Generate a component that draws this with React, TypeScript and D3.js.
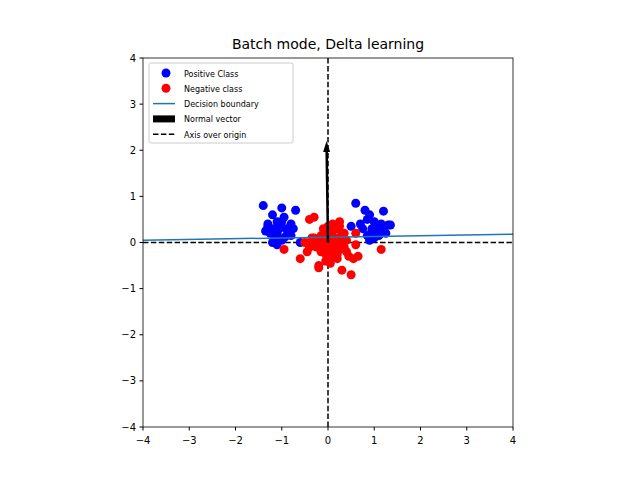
import React from "react";
import * as d3 from "d3";

const posX = [-1.4, -1.3, -1.2, -1.1, -1.0, -0.9, -0.8, -1.25, -1.15, -1.05, -0.95, -0.85, -0.7, -1.35, -1.2, -1.0, -0.9, -1.1, -0.75, -1.3, -1.0, -0.6, -1.2, -0.95, -1.1, -0.8,
  0.6, 0.8, 0.9, 1.0, 1.1, 1.2, 1.3, 0.85, 0.95, 1.05, 1.15, 0.75, 0.9, 1.0, 1.2, 1.35, 0.7, 1.1, 0.95, 1.25, 0.5, 1.0, 1.15, 0.85];
const posY = [0.8, 0.35, 0.6, 0.45, 0.75, 0.3, 0.4, 0.2, 0.1, 0.3, 0.55, 0.2, 0.7, 0.25, 0.0, 0.05, 0.15, -0.05, 0.3, 0.4, 0.45, 0.0, 0.3, 0.1, 0.2, 0.15,
  0.85, 0.7, 0.6, 0.45, 0.3, 0.35, 0.38, 0.5, 0.25, 0.2, 0.4, 0.3, 0.05, 0.1, 0.68, 0.38, 0.4, 0.15, 0.3, 0.2, 0.35, 0.3, 0.2, 0.15];
const negX = [-0.4, -0.3, -0.2, -0.1, 0.0, 0.1, 0.2, 0.3, -0.25, -0.15, 0.05, 0.15, 0.25, -0.35, 0.0, 0.1, -0.05, 0.2, 0.3, -0.6, -0.45, -0.2, 0.35, 0.5, 0.65, 0.6,
  -0.15, 0.05, 0.2, 0.45, -0.3, 0.1, 0.0, -0.1, 0.25, 0.15, -0.5, 0.4, 0.55, 0.05, -0.2, 0.3, 1.15, -0.95, 0.6, 0.25, -0.1, 0.0,
  -0.25, 0.2, 0.1, -0.1, 0.3, 0.15, -0.05, -0.35, 0.35, 0.05, -0.2, 0.25, 0.0, 0.4, -0.4, 0.1];
const negY = [0.5, 0.55, 0.0, 0.1, 0.35, 0.4, 0.3, 0.2, -0.1, -0.2, -0.3, 0.0, 0.1, -0.05, 0.2, -0.15, -0.4, -0.35, -0.05, -0.35, -0.2, -0.5, -0.1, -0.7, -0.3, 0.2,
  0.15, 0.05, -0.25, -0.3, 0.1, 0.25, -0.2, 0.3, 0.45, -0.05, 0.0, 0.05, -0.35, -0.45, -0.55, -0.6, -0.15, -0.15, -0.05, 0.35, 0.05, 0.15,
  0.05, 0.05, 0.15, -0.1, 0.0, 0.3, -0.25, 0.1, 0.2, -0.1, 0.0, -0.15, 0.0, -0.2, -0.1, -0.3];
const boundary = [[-4, 0.05], [4, 0.18]];
const normal = [[0, 0], [-0.03, 2.2]];
const ticks = [-4, -3, -2, -1, 0, 1, 2, 3, 4];
const legendItems = ["Positive Class", "Negative class", "Decision boundary", "Normal vector", "Axis over origin"];

export default function App() {
  const x = d3.scaleLinear().domain([-4, 4]).range([143, 513]);
  const y = d3.scaleLinear().domain([-4, 4]).range([427, 58]);
  const line = d3.line<number[]>().x(d => x(d[0])).y(d => y(d[1]));
  const ax = x(normal[1][0]), ay = y(normal[1][1]);
  return (
    <svg width={640} height={480} style={{ position: "absolute", left: 0, top: 0 }} fontFamily="DejaVu Sans">
      <rect width={640} height={480} fill="white" />
      <text x={328} y={49} textAnchor="middle" fontSize={14}>Batch mode, Delta learning</text>
      <path d={line([[0, -4], [0, 4]])!} stroke="black" strokeWidth={1.5} strokeDasharray="5.5,2.4" />
      <path d={line([[-4, 0], [4, 0]])!} stroke="black" strokeWidth={1.5} strokeDasharray="5.5,2.4" />
      {posX.map((v, i) => <circle key={"p" + i} cx={x(v)} cy={y(posY[i])} r={4.5} fill="blue" />)}
      {negX.map((v, i) => <circle key={"n" + i} cx={x(v)} cy={y(negY[i])} r={4.5} fill="red" />)}
      <path d={line(boundary as number[][])!} stroke="#1f77b4" strokeWidth={1.5} fill="none" />
      <line x1={x(0)} y1={y(0)} x2={ax} y2={ay + 8} stroke="black" strokeWidth={2.5} />
      <path d={`M${ax},${ay} L${ax - 3.5},${ay + 11} L${ax + 3.5},${ay + 11} Z`} fill="black" />
      <rect x={143} y={58} width={370} height={369} fill="none" stroke="black" strokeWidth={0.8} />
      {ticks.map(t => (
        <g key={"x" + t}>
          <line x1={x(t)} x2={x(t)} y1={427} y2={430.5} stroke="black" />
          <text x={x(t)} y={444} textAnchor="middle" fontSize={10}>{t < 0 ? "\u2212" + -t : t}</text>
          <line x1={139.5} x2={143} y1={y(t)} y2={y(t)} stroke="black" />
          <text x={136} y={y(t) + 3.5} textAnchor="end" fontSize={10}>{t < 0 ? "\u2212" + -t : t}</text>
        </g>
      ))}
      <rect x={149} y={63} width={144} height={80} rx={2} fill="white" fillOpacity={0.8} stroke="#ccc" />
      {legendItems.map((s, i) => {
        const cy = 73 + i * 15.3;
        return (
          <g key={s}>
            {i === 0 && <circle cx={166} cy={cy} r={4.5} fill="blue" />}
            {i === 1 && <circle cx={166} cy={cy} r={4.5} fill="red" />}
            {i === 2 && <line x1={153} x2={175} y1={cy} y2={cy} stroke="#1f77b4" strokeWidth={1.5} />}
            {i === 3 && <rect x={153} y={cy - 3.5} width={22} height={7} fill="black" />}
            {i === 4 && <line x1={153} x2={175} y1={cy} y2={cy} stroke="black" strokeWidth={1.5} strokeDasharray="5.5,2.4" />}
            <text x={184} y={cy + 3.5} fontSize={8}>{s}</text>
          </g>
        );
      })}
    </svg>
  );
}
